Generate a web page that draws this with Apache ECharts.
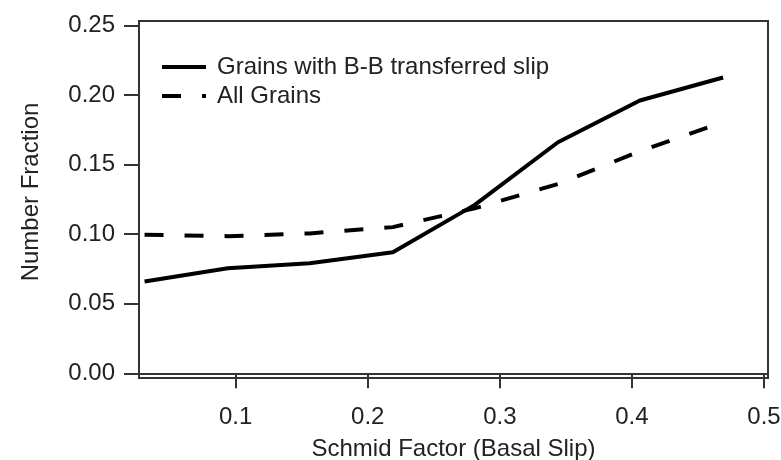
<!DOCTYPE html>
<html>
<head>
<meta charset="utf-8">
<script src="https://cdn.jsdelivr.net/npm/echarts@6/dist/echarts.min.js"></script>
<style>html,body{margin:0;padding:0;background:#fff}#c{width:781px;height:460px}</style>
</head>
<body>
<div id="c"></div>
<script>
const schmidFactor = [0.031, 0.094, 0.156, 0.219, 0.281, 0.344, 0.406, 0.469];
const bbTransferred = [0.066, 0.0755, 0.079, 0.087, 0.121, 0.166, 0.196, 0.2125];
const allGrains = [0.0995, 0.0985, 0.1005, 0.105, 0.1185, 0.136, 0.1595, 0.1805];
const xTicks = [0.1, 0.2, 0.3, 0.4, 0.5];
const yTicks = [0, 0.05, 0.10, 0.15, 0.20, 0.25];
const seriesNames = ['Grains with B-B transferred slip', 'All Grains'];

const font = 'Liberation Sans, Arial, sans-serif';
const txt = '#222';
const axisCol = '#333';

const chart = echarts.init(document.getElementById('c'), null, {renderer: 'canvas'});
chart.setOption({
  animation: false,
  backgroundColor: '#fff',
  textStyle: {fontFamily: font},
  grid: {left: 139, right: 13, top: 21, bottom: 82, containLabel: false, outerBoundsMode: 'none',
         show: true, borderColor: axisCol, borderWidth: 2, backgroundColor: 'transparent'},
  legend: {
    orient: 'vertical', left: 155, top: 50,
    itemWidth: 44, itemHeight: 14, itemGap: 5,
    itemStyle: {opacity: 0, borderWidth: 0},
    lineStyle: {width: 4, cap: 'butt'},
    textStyle: {fontFamily: font, fontSize: 24, color: txt, lineHeight: 24, padding: [0, 0, 0, 6]},
    data: seriesNames
  },
  xAxis: {
    type: 'value', min: 0.0268, max: 0.503,
    name: 'Schmid Factor (Basal Slip)', nameLocation: 'middle', nameGap: 59,
    nameTextStyle: {fontFamily: font, fontSize: 24, color: txt},
    axisLine: {show: true, lineStyle: {color: axisCol, width: 2}},
    axisTick: {show: true, length: 15, lineStyle: {color: axisCol, width: 2}, customValues: xTicks},
    axisLabel: {fontFamily: font, fontSize: 24, color: txt, margin: 27, customValues: xTicks, formatter: v => v.toFixed(1)},
    splitLine: {show: false}
  },
  yAxis: {
    type: 'value', min: -0.0034, max: 0.2531,
    name: 'Number Fraction', nameLocation: 'middle', nameGap: 96, nameRotate: 90,
    nameTextStyle: {fontFamily: font, fontSize: 24, color: txt, padding: [0, 0, 0, 15]},
    axisLine: {show: true, lineStyle: {color: axisCol, width: 2}},
    axisTick: {show: true, length: 15, lineStyle: {color: axisCol, width: 2}, customValues: yTicks},
    axisLabel: {fontFamily: font, fontSize: 24, color: txt, margin: 24, customValues: yTicks, formatter: v => v.toFixed(2)},
    splitLine: {show: false}
  },
  series: [
    {
      name: seriesNames[0], type: 'line', symbol: 'none', showSymbol: false,
      data: schmidFactor.map((x, i) => [x, bbTransferred[i]]),
      lineStyle: {color: '#000', width: 4, type: 'solid'},
      itemStyle: {color: '#000'}
    },
    {
      name: seriesNames[1], type: 'line', symbol: 'none', showSymbol: false,
      data: schmidFactor.map((x, i) => [x, allGrains[i]]),
      lineStyle: {color: '#000', width: 4, type: [19, 21], cap: 'butt'},
      itemStyle: {color: '#000'}
    }
  ]
});
</script>
</body>
</html>
